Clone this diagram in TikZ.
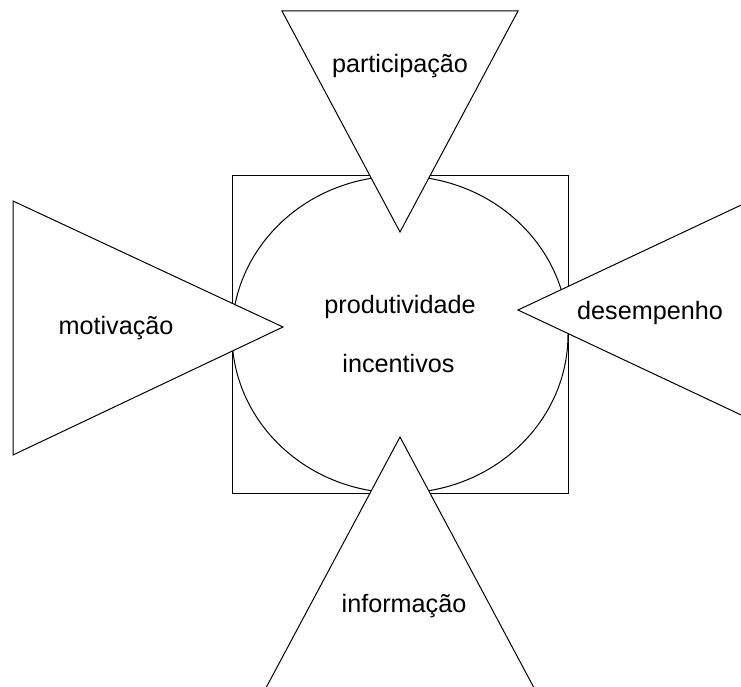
\documentclass[tikz,border=0pt]{standalone}
\usepackage{fontspec}
\setmainfont{Liberation Sans}
\begin{document}
\begin{tikzpicture}[x=1pt,y=-1pt,line width=1pt,
  tri/.style={draw=black,fill=white,line join=miter},
  lbl/.style={anchor=base,font=\fontsize{25.2}{28}\selectfont,inner sep=0pt}]
\useasboundingbox (0,0) rectangle (741,687);
\clip (0,0) rectangle (741,687);
% square and inscribed ellipse
\draw (232,176) rectangle (568,493);
\draw (400,334.5) ellipse [x radius=168pt,y radius=158.5pt];
% triangles
\draw[tri] (282,11) -- (518,11) -- (400,232) -- cycle;
\draw[tri] (13,201) -- (13,455) -- (283,327) -- cycle;
\draw[tri] (518,310) -- (788,183) -- (788,437) -- cycle;
\draw[tri] (400,437) -- (540.5,700) -- (259.5,700) -- cycle;
% labels
\node[lbl] (part) at (400,73) {participação};
\node[lbl] (mot) at (116,334) {motivação};
\node[lbl] (prod) at (400,313) {produtividade};
\node[lbl] (inc) at (398.5,372) {incentivos};
\node[lbl] (des) at (650,319) {desempenho};
\node[lbl] (inf) at (404,612) {informação};
\end{tikzpicture}
\end{document}
